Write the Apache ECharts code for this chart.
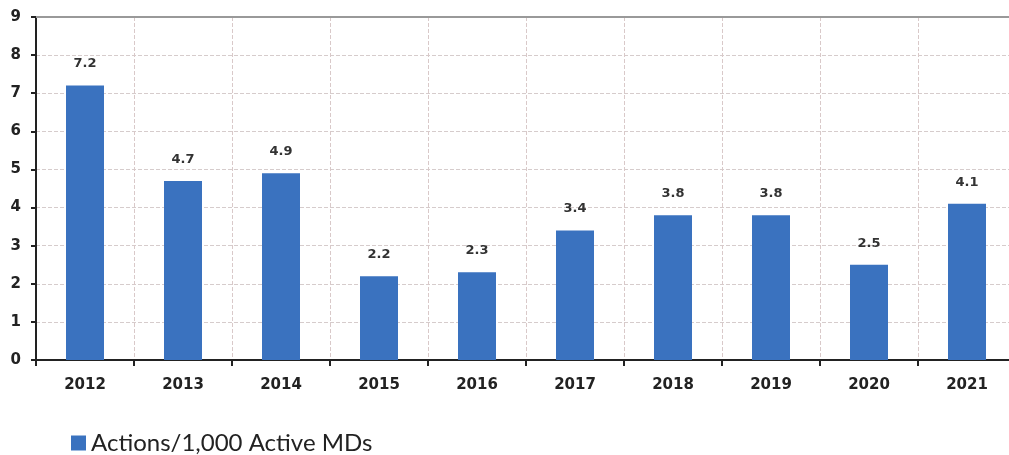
<!DOCTYPE html>
<html><head><meta charset="utf-8">
<script src="https://cdn.jsdelivr.net/npm/echarts@6/dist/echarts.min.js"></script>
<style>html,body{margin:0;padding:0;background:#fff;overflow:hidden}#c{width:1030px;height:455px}</style>
</head><body><div id="c"></div>
<script>
const categories = ['2012','2013','2014','2015','2016','2017','2018','2019','2020','2021'];
const values = [7.2, 4.7, 4.9, 2.2, 2.3, 3.4, 3.8, 3.8, 2.5, 4.1];
const seriesName = 'Actions/1,000 Active MDs';
const yTicks = [0,1,2,3,4,5,6,7,8,9];

const chart = echarts.init(document.getElementById('c'), null, {renderer:'canvas'});
chart.setOption({
  animation: false,
  backgroundColor: '#fff',
  grid: {left: 36, right: 14, top: 17, bottom: 95, containLabel: false},
  legend: {
    left: 66, top: 426, itemWidth: 15, itemHeight: 15, icon: 'rect', itemGap: 6,
    textStyle: {fontFamily: 'Lato', fontSize: 24, color: '#222'},
    data: [seriesName]
  },
  xAxis: {
    type: 'category', data: categories,
    axisLine: {lineStyle: {color: '#222', width: 2}},
    axisTick: {show: true, length: 6, lineStyle: {color: '#222', width: 2}},
    axisLabel: {fontFamily: 'DejaVu Sans', fontWeight: 'bold', fontSize: 15, color: '#222', margin: 18},
    splitLine: {show: true, lineStyle: {color: '#d9c9c9', type: 'dashed', width: 1}}
  },
  yAxis: {
    type: 'value', min: 0, max: 9, interval: 1,
    axisLine: {show: true, lineStyle: {color: '#222', width: 2}},
    axisTick: {show: true, length: 5, lineStyle: {color: '#222', width: 2}},
    axisLabel: {fontFamily: 'DejaVu Sans', fontWeight: 'bold', fontSize: 15, color: '#222', margin: 15,
      formatter: v => yTicks.includes(v) ? String(v) : ''},
    splitLine: {show: true, lineStyle: {color: '#d6cccc', type: 'dashed', width: 1}}
  },
  series: [{
    name: seriesName, type: 'bar', data: values, barWidth: 38,
    itemStyle: {color: '#3a72bf'},
    label: {show: true, position: 'top', distance: 15, fontFamily: 'DejaVu Sans', fontWeight: 'bold',
      fontSize: 13, color: '#333', formatter: p => p.value.toFixed(1)}
  }],
  graphic: [{
    type: 'line', shape: {x1: 36, y1: 17, x2: 1030, y2: 17},
    style: {stroke: '#999', lineWidth: 2}, z: 10
  }]
});
</script></body></html>
